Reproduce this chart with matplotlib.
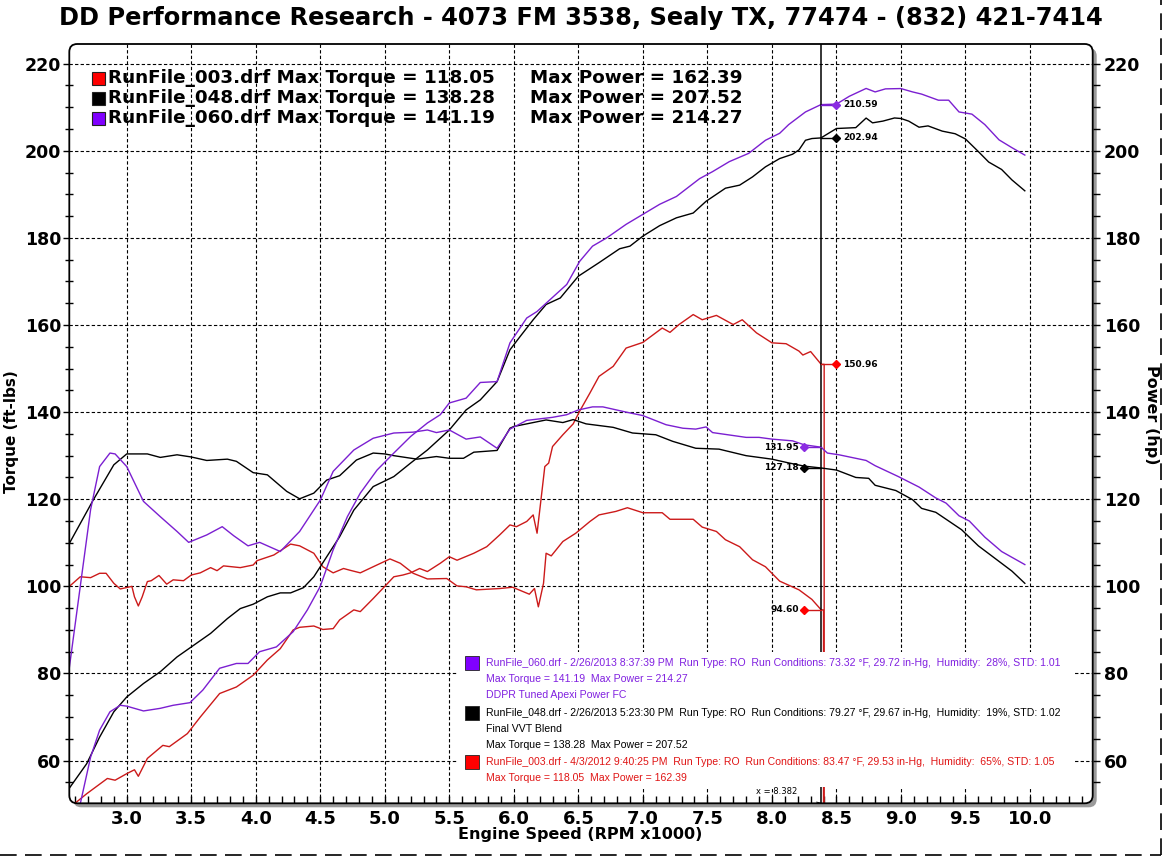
import matplotlib
matplotlib.use('Agg')
import matplotlib.pyplot as plt
from matplotlib.patches import FancyBboxPatch, Rectangle
from matplotlib.lines import Line2D
from matplotlib.ticker import MultipleLocator, FormatStrFormatter
from matplotlib.transforms import IdentityTransform

# ---- data (rpm x1000) ----
rpm_tq060 = [2.556, 2.64, 2.72, 2.79, 2.87, 2.91, 3.0, 3.13, 3.26, 3.39, 3.48, 3.62, 3.74, 3.83, 3.94,
             4.03, 4.19, 4.34, 4.5, 4.6, 4.76, 4.91, 5.07, 5.22, 5.33, 5.40, 5.5, 5.63, 5.74, 5.87,
             5.97, 6.10, 6.30, 6.41, 6.5, 6.61, 6.69, 6.87, 7.0, 7.18, 7.31, 7.41, 7.49, 7.54, 7.80,
             7.90, 8.0, 8.16, 8.25, 8.38, 8.43, 8.52, 8.73, 8.8, 8.98, 9.14, 9.27, 9.35, 9.45, 9.53,
             9.65, 9.78, 9.96]
tq060 = [81.5, 100, 117.6, 127.5, 130.6, 130.4, 127.5, 119.5, 116, 112.6, 110.1, 111.8, 113.7, 111.6, 109.3,
         110.1, 108, 112.6, 119.8, 126.4, 131.3, 134, 135.2, 135.4, 135.9, 135.3, 135.9, 133.8, 134.3, 131.7,
         136.1, 138.1, 138.8, 139.4, 140.5, 141.2, 141.2, 140, 139.2, 137.1, 136.3, 136.1, 136.6, 135.3, 134.2,
         134.2, 133.8, 133.4, 132.5, 131.95, 130.6, 130.2, 128.9, 127.7, 125.2, 122.8, 120.3, 119.1, 116.2, 115,
         111.3, 108, 105]

rpm_hp060 = [2.60, 2.64, 2.72, 2.79, 2.87, 2.95, 3.0, 3.13, 3.26, 3.36, 3.49, 3.59, 3.72, 3.85, 3.94,
             4.03, 4.16, 4.29, 4.40, 4.5, 4.6, 4.71, 4.81, 4.94, 5.07, 5.2, 5.33, 5.43, 5.5, 5.63,
             5.74, 5.87, 5.97, 6.10, 6.18, 6.28, 6.41, 6.51, 6.61, 6.72, 6.87, 7.0, 7.13, 7.26, 7.44,
             7.54, 7.67, 7.82, 7.95, 8.06, 8.13, 8.26, 8.38, 8.5, 8.6, 8.73, 8.8, 8.88, 9.0, 9.09,
             9.16, 9.29, 9.37, 9.45, 9.55, 9.65, 9.76, 9.86, 9.96]
hp060 = [45, 50.1, 60.8, 67, 71.2, 72.7, 72.5, 71.4, 72, 72.7, 73.3, 76.2, 81.2, 82.3, 82.3,
         85, 86.1, 89.6, 94.6, 100, 108.4, 116, 121.4, 126.7, 130.6, 134.4, 137.5, 139.4, 142.1, 143.2,
         146.8, 147, 155.9, 161.6, 163.1, 165.8, 169.3, 174.6, 178.1, 180, 183.1, 185.4, 187.7, 189.5, 193.6,
         195.2, 197.5, 199.4, 202.4, 204, 206, 208.9, 210.59, 210.7, 212.5, 214.3, 213.5, 214.2, 214.27, 213.5,
         213, 211.6, 211.6, 208.9, 208.4, 206, 202.5, 200.7, 199]

rpm_tq048 = [2.556, 2.74, 2.9, 3.0, 3.16, 3.26, 3.39, 3.5, 3.62, 3.78, 3.85, 3.98, 4.09, 4.24, 4.34,
             4.45, 4.55, 4.65, 4.78, 4.91, 5.0, 5.07, 5.25, 5.40, 5.5, 5.61, 5.69, 5.87, 5.97, 6.0,
             6.25, 6.38, 6.46, 6.56, 6.77, 6.92, 7.10, 7.23, 7.41, 7.59, 7.80, 8.0, 8.12, 8.25, 8.38,
             8.5, 8.65, 8.75, 8.8, 8.96, 9.09, 9.16, 9.27, 9.37, 9.47, 9.6, 9.73, 9.86, 9.96]
tq048 = [109.9, 119.8, 127.9, 130.4, 130.4, 129.6, 130.2, 129.7, 128.9, 129.2, 128.7, 126.1, 125.6, 121.8, 120.1,
         121.4, 124.4, 125.4, 129.0, 130.6, 130.4, 130, 129.2, 129.8, 129.4, 129.4, 130.8, 131.2, 136.3, 136.7,
         138.2, 137.6, 138.28, 137.3, 136.5, 135.2, 134.8, 133.3, 131.7, 131.5, 130, 129.2, 128.4, 127.6, 127.18,
         126.7, 125, 124.8, 123.2, 122, 119.9, 117.9, 117.0, 115, 113, 109.3, 106.4, 103.5, 100.7]

rpm_hp048 = [2.556, 2.69, 2.79, 2.9, 3.0, 3.13, 3.26, 3.39, 3.52, 3.65, 3.78, 3.88, 3.98, 4.09, 4.19,
             4.27, 4.37, 4.45, 4.55, 4.65, 4.76, 4.91, 5.07, 5.2, 5.33, 5.43, 5.5, 5.63, 5.74, 5.87,
             5.97, 6.05, 6.15, 6.25, 6.36, 6.5, 6.66, 6.82, 6.9, 7.0, 7.13, 7.26, 7.39, 7.49, 7.64,
             7.75, 7.85, 7.95, 8.06, 8.16, 8.21, 8.26, 8.31, 8.38, 8.5, 8.65, 8.73, 8.78, 8.86, 8.95,
             9.0, 9.06, 9.14, 9.21, 9.32, 9.42, 9.5, 9.6, 9.68, 9.78, 9.86, 9.96]
hp048 = [53.7, 59.3, 65.4, 71.2, 74.6, 77.7, 80.4, 83.8, 86.5, 89.2, 92.6, 94.9, 95.9, 97.6, 98.5,
         98.5, 99.7, 102.2, 106.8, 111.4, 117.5, 122.9, 125.2, 128.3, 131.3, 134, 135.9, 140.5, 142.8, 147,
         154.3, 157.4, 161.2, 164.7, 166.2, 171.2, 174.3, 177.5, 178.1, 180.4, 182.8, 184.6, 185.7, 188.4, 191.4,
         192.1, 194, 196.3, 198.2, 199.2, 200.2, 202.4, 202.8, 202.94, 205.1, 205.3, 207.5, 206.4, 206.8, 207.52,
         207.4, 206.8, 205.4, 205.7, 204.5, 203.9, 202.7, 199.8, 197.4, 195.7, 193.3, 190.8]

rpm_tq003 = [2.556, 2.64, 2.72, 2.79, 2.84, 2.9, 2.95, 3.04, 3.06, 3.09, 3.12, 3.16, 3.19, 3.25, 3.31,
             3.36, 3.44, 3.5, 3.57, 3.65, 3.70, 3.75, 3.88, 3.98, 4.01, 4.14, 4.27, 4.34, 4.45, 4.52,
             4.60, 4.68, 4.73, 4.81, 4.91, 5.04, 5.12, 5.22, 5.33, 5.48, 5.56, 5.63, 5.71, 5.89, 5.99,
             6.12, 6.16, 6.19, 6.23, 6.25, 6.29, 6.38, 6.48, 6.59, 6.66, 6.79, 6.88, 7.0, 7.15, 7.21,
             7.39, 7.46, 7.57, 7.64, 7.75, 7.85, 7.95, 8.06, 8.21, 8.31, 8.382, 8.40, 8.40]
tq003 = [100, 102.2, 102, 103, 103, 100.7, 99.4, 100, 97.6, 95.5, 97.6, 101.1, 101.3, 102.5, 100.5,
         101.5, 101.3, 102.6, 103.1, 104.3, 103.6, 104.7, 104.3, 104.9, 105.9, 107.2, 109.7, 109.3, 107.6, 104.5,
         103.1, 104.1, 103.7, 103.1, 104.5, 106.3, 105.3, 103, 101.7, 101.8, 100.1, 99.9, 99.2, 99.5, 99.8,
         98.2, 99.5, 95.3, 100.7, 107.6, 107, 110.3, 112.2, 114.9, 116.4, 117.2, 118.05, 116.9, 116.9, 115.4,
         115.4, 113.6, 112.6, 110.7, 109.1, 106.1, 104.5, 101.2, 99.2, 97, 94.6, 94.6, 0]

rpm_hp003 = [2.57, 2.69, 2.85, 2.91, 3.0, 3.06, 3.09, 3.16, 3.28, 3.33, 3.47, 3.57, 3.72, 3.85, 3.98,
             4.09, 4.19, 4.29, 4.34, 4.45, 4.52, 4.6, 4.65, 4.76, 4.81, 4.91, 5.0, 5.07, 5.14, 5.2,
             5.27, 5.33, 5.43, 5.5, 5.56, 5.69, 5.79, 5.89, 5.97, 6.02, 6.10, 6.15, 6.18, 6.21, 6.24,
             6.27, 6.30, 6.38, 6.46, 6.51, 6.59, 6.66, 6.77, 6.87, 7.0, 7.15, 7.21, 7.28, 7.39, 7.46,
             7.57, 7.70, 7.77, 7.88, 8.0, 8.11, 8.21, 8.24, 8.30, 8.382, 8.405, 8.405]
hp003 = [49.5, 52.4, 55.9, 55.5, 57, 57.9, 56.4, 60.5, 63.5, 63.2, 66.2, 70, 75.4, 76.9, 79.6,
         83.1, 85.7, 90, 90.6, 90.9, 90.1, 90.3, 92.3, 94.6, 94.2, 97.2, 100, 102.2, 102.6, 103.1,
         104.1, 103.4, 105.3, 106.8, 106, 107.6, 109.1, 111.8, 114.1, 113.7, 114.9, 116.4, 112.2, 119.8, 127.5,
         128.3, 132.1, 134.8, 137.3, 140.2, 144.4, 148.2, 150.5, 154.7, 156, 159.3, 158.3, 160.1, 162.39, 161.2,
         162.2, 160.1, 161.2, 158.2, 155.9, 155.7, 154, 153.1, 153.9, 150.96, 150.96, 0]

cursor_rpm = 8.382
cursor_hp = [150.96, 202.94, 210.59]     # 003, 048, 060
cursor_tq = [94.60, 127.18, 131.95]

run_names = ['RunFile_003.drf', 'RunFile_048.drf', 'RunFile_060.drf']
max_tq = [118.05, 138.28, 141.19]
max_hp = [162.39, 207.52, 214.27]

line_cols = ['#cc1a1a', '#000000', '#7b1fd1']
box_cols = ['#ff0000', '#000000', '#8000ff']
text_cols = ['#e01515', '#000000', '#8020e0']

info_060 = ['RunFile_060.drf - 2/26/2013 8:37:39 PM  Run Type: RO  Run Conditions: 73.32 \u00b0F, 29.72 in-Hg,  Humidity:  28%, STD: 1.01',
            'Max Torque = 141.19  Max Power = 214.27',
            'DDPR Tuned Apexi Power FC']
info_048 = ['RunFile_048.drf - 2/26/2013 5:23:30 PM  Run Type: RO  Run Conditions: 79.27 \u00b0F, 29.67 in-Hg,  Humidity:  19%, STD: 1.02',
            'Final VVT Blend',
            'Max Torque = 138.28  Max Power = 207.52']
info_003 = ['RunFile_003.drf - 4/3/2012 9:40:25 PM  Run Type: RO  Run Conditions: 83.47 \u00b0F, 29.53 in-Hg,  Humidity:  65%, STD: 1.05',
            'Max Torque = 118.05  Max Power = 162.39']

# ---- figure ----
W, H = 1168, 858
fig = plt.figure(figsize=(W / 100, H / 100), dpi=100, facecolor='white')

def fx(x):
    return x / W

def fy(y):
    return 1 - y / H

L, T, R, B = 69.3, 44, 1092.7, 803.3
ax = fig.add_axes([fx(L), fy(B), (R - L) / W, (B - T) / H])
ax.set_facecolor('none')
for s in ax.spines.values():
    s.set_visible(False)

# rounded frame with drop shadow
shadow = FancyBboxPatch((L + 4, H - B - 4), R - L, B - T, boxstyle='round,pad=0,rounding_size=8',
                        transform=IdentityTransform(), fc='#9a9a9a', ec='none', zorder=-2)
face = FancyBboxPatch((L, H - B), R - L, B - T, boxstyle='round,pad=0,rounding_size=8',
                      transform=IdentityTransform(), fc='white', ec='none', zorder=-1)
frame = FancyBboxPatch((L, H - B), R - L, B - T, boxstyle='round,pad=0,rounding_size=8',
                       transform=IdentityTransform(), fc='none', ec='black', lw=1.3, zorder=10)
fig.add_artist(shadow)
fig.add_artist(face)
fig.add_artist(frame)

xmin, xmax, ymin, ymax = 2.555, 10.486, 50.2, 224.5
ax.set_xlim(xmin, xmax)
ax.set_ylim(ymin, ymax)
ax.xaxis.set_major_locator(MultipleLocator(0.5))
ax.xaxis.set_minor_locator(MultipleLocator(0.1))
ax.xaxis.set_major_formatter(FormatStrFormatter('%.1f'))
ax.yaxis.set_major_locator(MultipleLocator(20))
ax.yaxis.set_minor_locator(MultipleLocator(5))
ax.set_axisbelow(True)
ax.grid(True, which='major', color='black', linestyle=(0, (3, 2)), lw=0.8)

ax.tick_params(axis='x', which='both', direction='in', length=5, width=1, labelsize=13, pad=5)
ax.tick_params(axis='y', which='major', direction='out', length=4, width=1, labelsize=12.5, pad=2)
ax.tick_params(axis='y', which='minor', direction='inout', length=6, width=1)

ax2 = ax.twinx()
ax2.set_facecolor('none')
for s in ax2.spines.values():
    s.set_visible(False)
ax2.set_ylim(ymin, ymax)
ax2.yaxis.set_major_locator(MultipleLocator(20))
ax2.yaxis.set_minor_locator(MultipleLocator(5))
ax2.tick_params(axis='y', which='major', direction='out', length=5, width=1, labelsize=12.5, pad=3)
ax2.tick_params(axis='y', which='minor', direction='out', length=5, width=1)

for lab in ax.get_xticklabels() + ax.get_yticklabels() + ax2.get_yticklabels():
    lab.set_fontweight('bold')

# white box behind run info (covers grid and cursor lines)
info_box = Rectangle((458, H - 787), 1075 - 458, 787 - 652, transform=IdentityTransform(),
                     fc='white', ec='none', zorder=7)
ax.add_patch(info_box)

# curves
series = [(rpm_tq003, tq003, 0), (rpm_hp003, hp003, 0),
          (rpm_tq048, tq048, 1), (rpm_hp048, hp048, 1),
          (rpm_tq060, tq060, 2), (rpm_hp060, hp060, 2)]
for xs, ys, i in series:
    ax.plot(xs, ys, color=line_cols[i], lw=1.0, zorder=3)

# cursor
ax.axvline(cursor_rpm, color='black', lw=1.1, zorder=4)
for i in range(3):
    c = box_cols[i] if i != 2 else '#8a2be2'
    ax.plot([cursor_rpm, 8.5], [cursor_hp[i]] * 2, color=line_cols[i], lw=1, zorder=4)
    ax.plot([8.5], [cursor_hp[i]], marker='D', ms=4, color=c, zorder=5)
    ax.annotate(f'{cursor_hp[i]:.2f}', (8.5, cursor_hp[i]), xytext=(5, 0), textcoords='offset points',
                ha='left', va='center', fontsize=6.5, fontweight='bold', zorder=6)
    ax.plot([cursor_rpm, 8.25], [cursor_tq[i]] * 2, color=line_cols[i], lw=1, zorder=4)
    ax.plot([8.25], [cursor_tq[i]], marker='D', ms=4, color=c, zorder=5)
    ax.annotate(f'{cursor_tq[i]:.2f}', (8.25, cursor_tq[i]), xytext=(-4, 0), textcoords='offset points',
                ha='right', va='center', fontsize=6.5, fontweight='bold', zorder=6)

ax.annotate(f'x = {cursor_rpm:.3f}', (cursor_rpm, ymin), xytext=(8.04, 52.8), textcoords='data',
            ha='center', va='center', fontsize=6, zorder=8,
            arrowprops=dict(arrowstyle='-', color='black', lw=0.7, shrinkA=12, shrinkB=0))

# title and axis labels
fig.text(fx(581), fy(18), 'DD Performance Research - 4073 FM 3538, Sealy TX, 77474 - (832) 421-7414',
         ha='center', va='center', fontsize=17.4, fontweight='bold')
fig.text(fx(580), fy(834), 'Engine Speed (RPM x1000)', ha='center', va='center', fontsize=11.5,
         fontweight='bold')
fig.text(fx(12), fy(432), 'Torque (ft-lbs)', ha='center', va='center', rotation=90, fontsize=11,
         fontweight='bold')
fig.text(fx(1152), fy(415), 'Power (hp)', ha='center', va='center', rotation=270, fontsize=11.5,
         fontweight='bold')

# top-left legend
for k in range(3):
    yc = 78 + 20 * k
    fig.add_artist(Rectangle((fx(92), fy(yc + 6.5)), 13 / W, 13 / H, transform=fig.transFigure,
                             fc=box_cols[k], ec='#222222', lw=0.8, zorder=11))
    fig.text(fx(108), fy(yc), f'{run_names[k]} Max Torque = {max_tq[k]:.2f}', ha='left', va='center',
             fontsize=13.2, fontweight='bold', zorder=11)
    fig.text(fx(530), fy(yc), f'Max Power = {max_hp[k]:.2f}', ha='left', va='center',
             fontsize=13.2, fontweight='bold', zorder=11)

# run info block
blocks = [(info_060, 2, 663), (info_048, 1, 713), (info_003, 0, 762)]
for lines, k, y0 in blocks:
    fig.add_artist(Rectangle((fx(465), fy(y0 + 7)), 14 / W, 14 / H, transform=fig.transFigure,
                             fc=box_cols[k], ec='#222222', lw=0.6, zorder=11))
    for j, s in enumerate(lines):
        fig.text(fx(486), fy(y0 + 16 * j), s, ha='left', va='center', fontsize=7.55,
                 family=['Liberation Sans', 'DejaVu Sans'], color=text_cols[k], zorder=11)

# dashed page border
fig.add_artist(Line2D([0, fx(1161)], [fy(855), fy(855)], transform=fig.transFigure, color='black',
                      lw=1.2, linestyle=(0, (10, 5))))
fig.add_artist(Line2D([fx(1161), fx(1161)], [fy(855), 1], transform=fig.transFigure, color='black',
                      lw=1.2, linestyle=(0, (10, 5))))

fig.savefig('out.png', dpi=100, facecolor='white')
